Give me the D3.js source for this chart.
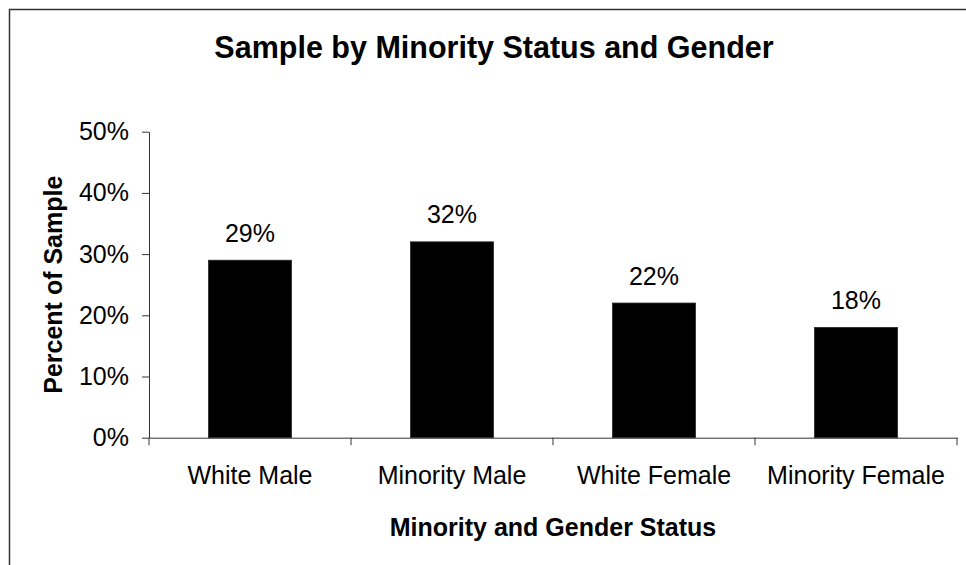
<!DOCTYPE html>
<html>
<head>
<meta charset="utf-8">
<script src="https://cdn.jsdelivr.net/npm/d3@7/dist/d3.min.js"></script>
<style>
  html, body { margin: 0; padding: 0; background: #fff; }
  svg { display: block; font-family: "Liberation Sans", Arial, sans-serif; }
</style>
</head>
<body>
<svg id="chart" width="966" height="565"></svg>
<script>
const categories = ["White Male", "Minority Male", "White Female", "Minority Female"];
const values = [0.29, 0.32, 0.22, 0.18];
const yTicks = [0, 0.1, 0.2, 0.3, 0.4, 0.5];
const title = "Sample by Minority Status and Gender";
const xTitle = "Minority and Gender Status";
const yTitle = "Percent of Sample";

const svg = d3.select("#chart");
const W = 966, H = 565;
const plot = { left: 149, right: 957, top: 131.7, bottom: 437.7 };

svg.append("rect").attr("width", W).attr("height", H).attr("fill", "#fff");
// outer frame (extends past right/bottom edges)
svg.append("rect")
  .attr("x", 9.5).attr("y", 9.5).attr("width", 1000).attr("height", 600)
  .attr("fill", "none").attr("stroke", "#333").attr("stroke-width", 1.5);

const xOuter = d3.scaleBand().domain(categories).range([plot.left, plot.right]).padding(0);
const x = d3.scaleBand().domain(categories).range([plot.left, plot.right])
  .paddingInner(0.59).paddingOuter(0.295);
const y = d3.scaleLinear().domain([0, 0.5]).range([plot.bottom, plot.top]);
const fmt = d3.format(".0%");

// title
svg.append("text")
  .attr("x", 494).attr("y", 57.5)
  .attr("text-anchor", "middle")
  .attr("font-size", 30.5).attr("font-weight", "bold")
  .text(title);

// y axis
const yAxis = svg.append("g")
  .attr("transform", `translate(${plot.left},0)`)
  .call(d3.axisLeft(y).tickValues(yTicks).tickFormat(fmt).tickSize(7).tickSizeOuter(0).tickPadding(13));
yAxis.select(".domain").attr("stroke", "#333");
yAxis.selectAll(".tick line").attr("stroke", "#333");
yAxis.selectAll(".tick text").attr("font-size", 25).attr("fill", "#000")
  .attr("font-family", "'Liberation Sans', Arial, sans-serif");

// bars
svg.append("g").selectAll("rect")
  .data(values)
  .join("rect")
  .attr("x", (d, i) => x(categories[i]))
  .attr("y", d => y(d))
  .attr("width", x.bandwidth())
  .attr("height", d => y(0) - y(d))
  .attr("fill", "#000")
  .attr("stroke", "#222").attr("stroke-width", 0.8);

// value labels
svg.append("g").selectAll("text")
  .data(values)
  .join("text")
  .attr("x", (d, i) => x(categories[i]) + x.bandwidth() / 2)
  .attr("y", d => y(d) - 18.5)
  .attr("text-anchor", "middle")
  .attr("font-size", 25)
  .text(d => fmt(d));

// x axis
const xAxis = svg.append("g")
  .attr("transform", `translate(0,${plot.bottom})`)
  .call(d3.axisBottom(xOuter).tickSize(0).tickSizeOuter(0).tickPadding(28.5));
xAxis.select(".domain").attr("stroke", "#333");
xAxis.selectAll(".tick text").attr("font-size", 25).attr("fill", "#000")
  .attr("font-family", "'Liberation Sans', Arial, sans-serif");

// category boundary ticks
const bounds = categories.map(c => xOuter(c)).concat([xOuter(categories[categories.length - 1]) + xOuter.bandwidth()]);
svg.append("g").selectAll("line")
  .data(bounds)
  .join("line")
  .attr("x1", d => d).attr("x2", d => d)
  .attr("y1", plot.bottom).attr("y2", plot.bottom + 7.5)
  .attr("stroke", "#333").attr("stroke-width", 1);

// axis titles
svg.append("text")
  .attr("x", (plot.left + plot.right) / 2).attr("y", 536)
  .attr("text-anchor", "middle")
  .attr("font-size", 25).attr("font-weight", "bold")
  .text(xTitle);

svg.append("text")
  .attr("transform", `translate(61.5,${(plot.top + plot.bottom) / 2}) rotate(-90)`)
  .attr("text-anchor", "middle")
  .attr("font-size", 25).attr("font-weight", "bold")
  .text(yTitle);
</script>
</body>
</html>
